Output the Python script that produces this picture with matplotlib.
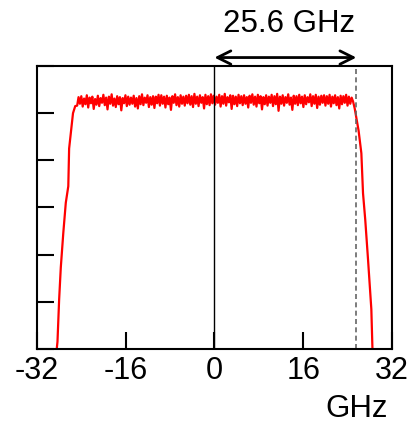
"""
Spectrum plot: flat-top red spectrum with 25.6 GHz bandwidth marker.
"""

import numpy as np
import matplotlib
matplotlib.use('Agg')
import matplotlib.pyplot as plt

plt.rcParams['font.family'] = ['Liberation Sans', 'DejaVu Sans']

# rising edge (GHz, level)
left_x = [-28.7, -28.3, -28.0, -27.7, -27.25, -26.8, -26.35, -26.2, -25.5, -25.1]
left_y = [-0.3, 0.15, 1.05, 1.73, 2.46, 3.1, 3.45, 4.25, 5.0, 5.15]

# flat top, sampled every 0.25 GHz from -24.75 to 24.75
top_start, top_stop = -24.75, 24.75
top_y = [
    5.16, 5.34, 5.20, 5.36, 5.14, 5.31, 5.19, 5.38, 5.12, 5.33, 5.21, 5.35, 5.09, 5.30, 5.18, 5.37, 5.15, 5.32, 5.22, 5.39,
    5.17, 5.33, 5.08, 5.35, 5.20, 5.40, 5.16, 5.31, 5.13, 5.36, 5.19, 5.34, 5.06, 5.32, 5.21, 5.38, 5.15, 5.35, 5.18, 5.33,
    5.20, 5.37, 5.14, 5.32, 5.10, 5.36, 5.19, 5.40, 5.17, 5.33, 5.22, 5.38, 5.13, 5.34, 5.18, 5.36, 5.11, 5.35, 5.21, 5.39,
    5.16, 5.38, 5.20, 5.35, 5.12, 5.37, 5.19, 5.33, 5.07, 5.36, 5.22, 5.40, 5.17, 5.34, 5.14, 5.38, 5.20, 5.35, 5.16, 5.37,
    5.21, 5.39, 5.18, 5.36, 5.13, 5.41, 5.20, 5.35, 5.15, 5.38, 5.22, 5.34, 5.10, 5.39, 5.19, 5.36, 5.17, 5.40, 5.21, 5.37,
    5.18, 5.35, 5.22, 5.39, 5.14, 5.36, 5.20, 5.41, 5.16, 5.34, 5.23, 5.38, 5.09, 5.37, 5.19, 5.35, 5.15, 5.39, 5.21, 5.36,
    5.17, 5.38, 5.20, 5.34, 5.12, 5.37, 5.22, 5.40, 5.18, 5.35, 5.14, 5.39, 5.21, 5.36, 5.08, 5.34, 5.19, 5.38, 5.16, 5.35,
    5.22, 5.39, 5.15, 5.36, 5.19, 5.41, 5.05, 5.35, 5.20, 5.38, 5.16, 5.34, 5.22, 5.40, 5.18, 5.33, 5.07, 5.37, 5.20, 5.36,
    5.17, 5.39, 5.21, 5.35, 5.13, 5.38, 5.19, 5.34, 5.23, 5.40, 5.15, 5.36, 5.20, 5.39, 5.11, 5.35, 5.18, 5.37, 5.22, 5.38,
    5.16, 5.36, 5.20, 5.39, 5.14, 5.35, 5.21, 5.38, 5.17, 5.34, 5.10, 5.37, 5.19, 5.36, 5.22, 5.39, 5.16, 5.35, 5.20, 5.33,
]

# falling edge
right_x = [25.0, 25.3, 25.6, 26.0, 26.5, 26.8, 27.2, 27.7, 28.3, 28.5, 28.8]
right_y = [5.25, 5.1, 4.9, 4.63, 4.15, 3.3, 2.74, 1.9, 0.84, 0.0, -0.3]

x_ticks = [-32, -16, 0, 16, 32]
bandwidth = 25.6

top_x = np.linspace(top_start, top_stop, len(top_y))
freq = np.concatenate([left_x, top_x, right_x])
level = np.concatenate([left_y, top_y, right_y])

fig = plt.figure(figsize=(4.2, 4.26), dpi=100)
ax = fig.add_axes([0.088, 0.181, 0.845, 0.664])

ax.plot(freq, level, color='red', lw=1.6)
ax.axvline(0, color='black', lw=1.0)
ax.axvline(bandwidth, color='0.4', lw=1.2, ls=(0, (3, 2)))

ax.set_xlim(-32, 32)
ax.set_ylim(0, 6)
ax.set_xticks(x_ticks)
ax.set_xticklabels([str(t) for t in x_ticks], fontsize=22)
ax.set_yticks(range(7))
ax.set_yticklabels([])
ax.tick_params(direction='in', length=12, width=1.5, pad=5)
for s in ax.spines.values():
    s.set_linewidth(1.5)

ax.annotate('', xy=(0, 1.03), xytext=(bandwidth, 1.03),
            xycoords=('data', 'axes fraction'), textcoords=('data', 'axes fraction'),
            arrowprops=dict(arrowstyle='<->', lw=2, color='black',
                            shrinkA=0, shrinkB=0, mutation_scale=24),
            annotation_clip=False)
ax.text(bandwidth / 2 + 0.7, 1.15, '25.6 GHz', transform=ax.get_xaxis_transform(),
        ha='center', va='center', fontsize=22.5)
fig.text(0.848, 0.02, 'GHz', ha='center', va='baseline', fontsize=22.5)

plt.savefig('out.png', dpi=100)
plt.close()
